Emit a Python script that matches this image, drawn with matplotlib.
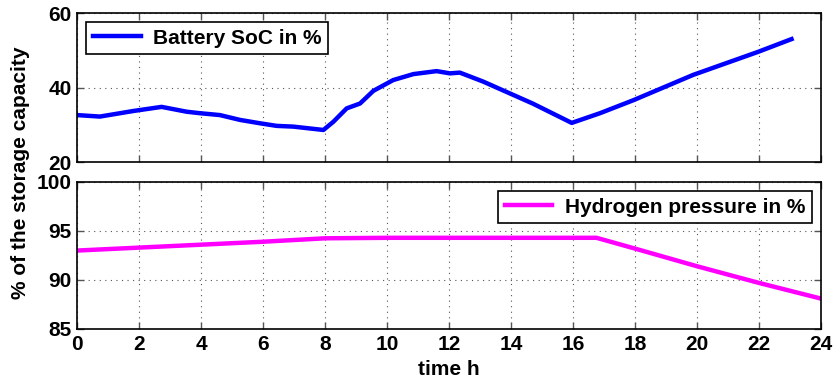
import matplotlib
matplotlib.use("Agg")
import matplotlib.pyplot as plt
import numpy as np

plt.rcParams['font.family'] = ['Liberation Sans', 'DejaVu Sans']
plt.rcParams['font.weight'] = 'bold'

# Battery state of charge
soc_hours = [0, 0.74, 1.82, 2.73, 3.54, 3.97, 4.61, 5.26, 5.9, 6.44, 6.98, 7.52, 7.95,
             8.27, 8.7, 9.13, 9.56, 10.2, 10.85, 11.6, 12.03, 12.35, 13.1, 14.7, 15.96,
             16.87, 17.95, 19.88, 21.98, 23.05]
soc_values = [32.6, 32.2, 33.7, 34.8, 33.5, 33.1, 32.6, 31.3, 30.4, 29.7, 29.5, 29.0, 28.6,
              30.8, 34.4, 35.7, 39.1, 42.0, 43.6, 44.4, 43.8, 44.0, 41.6, 35.7, 30.5,
              33.1, 36.6, 43.4, 49.6, 53.0]

# Hydrogen pressure
h2_hours = [0, 2, 4, 6, 8, 10, 12, 14, 16, 16.76, 18, 20, 22, 24]
h2_values = [93.0, 93.3, 93.6, 93.9, 94.25, 94.3, 94.3, 94.3, 94.3, 94.3, 93.2, 91.4, 89.7, 88.1]

x_ticks = list(range(0, 25, 2))
FS = 15

fig = plt.figure(figsize=(8.34, 3.83), dpi=100)
ax1 = fig.add_axes([0.0923, 0.577, 0.8921, 0.389])
ax2 = fig.add_axes([0.0923, 0.141, 0.8921, 0.384])

ax1.plot(soc_hours, soc_values, color=(0, 0, 1), lw=3.2, label='Battery SoC in %')
ax2.plot(h2_hours, h2_values, color=(1, 0, 1), lw=3.2, label='Hydrogen pressure in %')

ax1.set_ylim(20, 60)
ax1.set_yticks([20, 40, 60])
ax2.set_ylim(85, 100)
ax2.set_yticks([85, 90, 95, 100])

for ax in (ax1, ax2):
    ax.set_xlim(0, 24)
    ax.set_xticks(x_ticks)
    ax.grid(True, linestyle=(0, (1, 4)), color='#555555', linewidth=0.8)
    ax.tick_params(direction='in', length=5, top=True, right=True, labelsize=FS,
                   color='#555555', width=1, pad=4)
    for s in ax.spines.values():
        s.set_linewidth(1.2)
    for lbl in ax.get_xticklabels() + ax.get_yticklabels():
        lbl.set_fontweight('bold')

ax1.tick_params(labelbottom=False)

leg_kw = dict(prop={'weight': 'bold', 'size': FS}, fancybox=False, edgecolor='black',
              framealpha=1, handlelength=2.3, borderpad=0.3, borderaxespad=0.45,
              handletextpad=0.6)
l1 = ax1.legend(loc='upper left', **leg_kw)
l2 = ax2.legend(loc='upper right', **leg_kw)
for l in (l1, l2):
    l.get_frame().set_linewidth(1.2)

ax2.set_xlabel('time h', fontsize=FS, fontweight='bold', labelpad=5)
fig.text(0.024, 0.55, '% of the storage capacity', rotation=90, fontsize=FS,
         fontweight='bold', ha='center', va='center')

fig.savefig('out.png', dpi=100)
